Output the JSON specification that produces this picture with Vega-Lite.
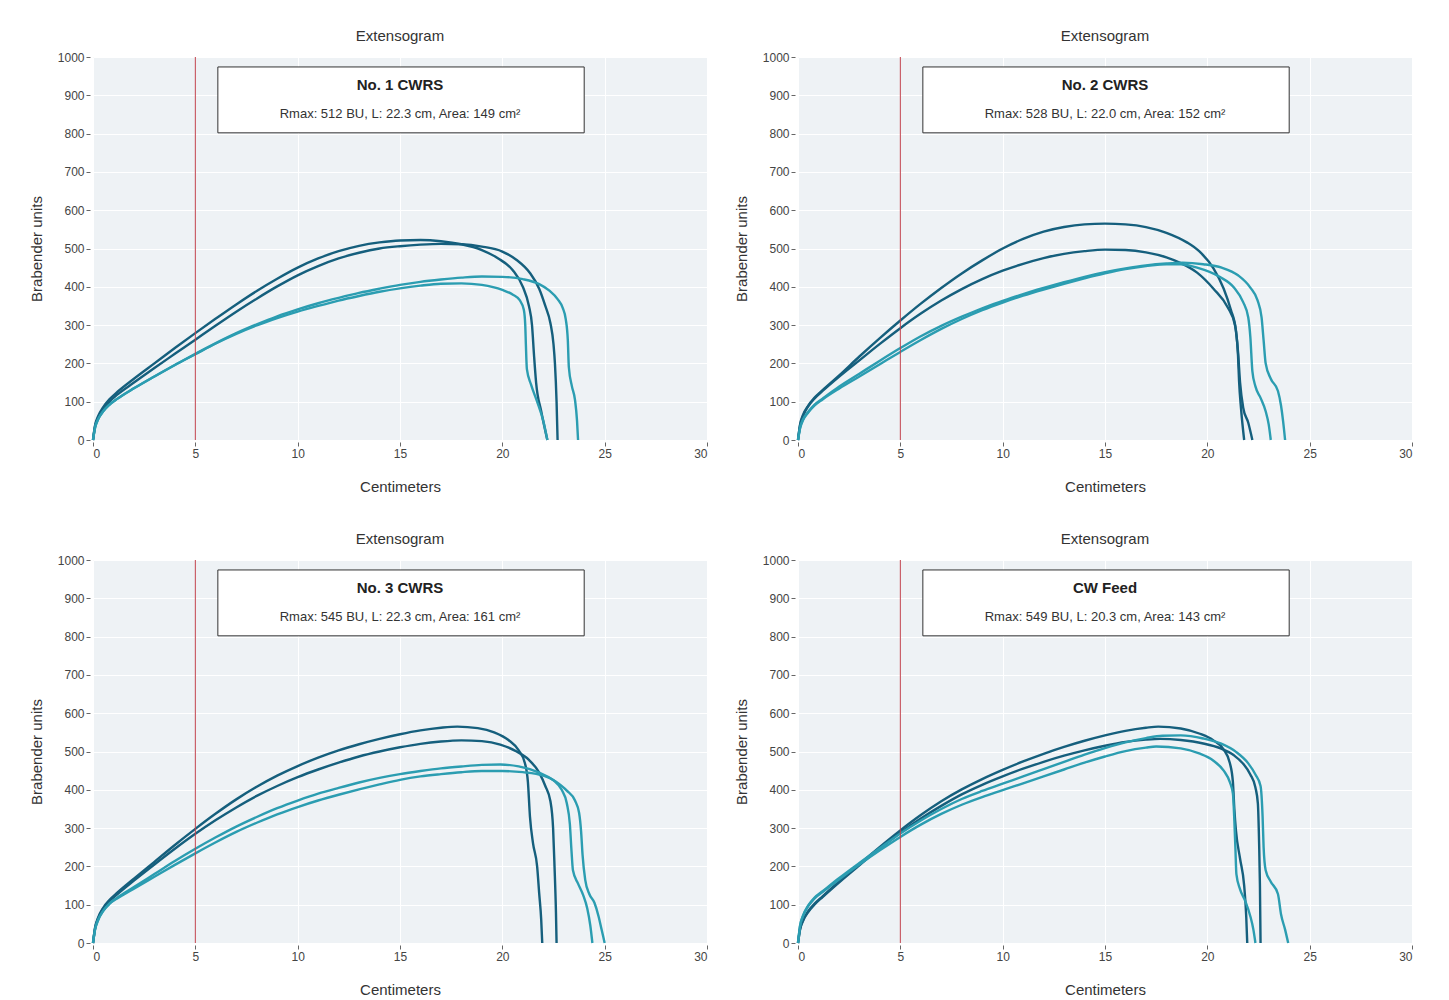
{
  "$schema": "https://vega.github.io/schema/vega-lite/v6.json",
  "padding": {"left": 29, "top": 29, "right": 5, "bottom": 5},
  "background": "white",
  "config": {
    "font": "Liberation Sans",
    "view": {"fill": "#eef2f5", "stroke": null},
    "axis": {
      "domain": false, "gridColor": "#ffffff", "gridWidth": 1, "tickColor": "#666666", "tickSize": 4,
      "labelColor": "#444444", "labelFontSize": 12, "titleFontSize": 15, "titleFontWeight": "normal",
      "titleColor": "#333333", "labelPadding": 2, "labelOverlap": false
    }
  },
  "datasets": {
    "rows": [
      {"p":1,"t":"No. 1 CWRS","st":"Rmax: 512 BU, L: 22.3 cm, Area: 149 cm²"},
      {"p":2,"t":"No. 2 CWRS","st":"Rmax: 528 BU, L: 22.0 cm, Area: 152 cm²"},
      {"p":3,"t":"No. 3 CWRS","st":"Rmax: 545 BU, L: 22.3 cm, Area: 161 cm²"},
      {"p":4,"t":"CW Feed","st":"Rmax: 549 BU, L: 20.3 cm, Area: 143 cm²"},

      {"p":1,"s":"1a","c":"d","x":0,"y":0},{"p":1,"s":"1a","c":"d","x":0.1,"y":38},{"p":1,"s":"1a","c":"d","x":0.25,"y":62},{"p":1,"s":"1a","c":"d","x":0.5,"y":86},{"p":1,"s":"1a","c":"d","x":0.8,"y":106},{"p":1,"s":"1a","c":"d","x":1.2,"y":126},{"p":1,"s":"1a","c":"d","x":2,"y":160},{"p":1,"s":"1a","c":"d","x":3,"y":200},{"p":1,"s":"1a","c":"d","x":4,"y":240},{"p":1,"s":"1a","c":"d","x":5,"y":279},{"p":1,"s":"1a","c":"d","x":6,"y":317},{"p":1,"s":"1a","c":"d","x":7,"y":354},{"p":1,"s":"1a","c":"d","x":8,"y":389},{"p":1,"s":"1a","c":"d","x":9,"y":421},{"p":1,"s":"1a","c":"d","x":10,"y":450},{"p":1,"s":"1a","c":"d","x":11,"y":474},{"p":1,"s":"1a","c":"d","x":12,"y":493},{"p":1,"s":"1a","c":"d","x":13,"y":507},{"p":1,"s":"1a","c":"d","x":14,"y":516},{"p":1,"s":"1a","c":"d","x":15,"y":521},{"p":1,"s":"1a","c":"d","x":16,"y":522},{"p":1,"s":"1a","c":"d","x":17,"y":519},{"p":1,"s":"1a","c":"d","x":18,"y":511},{"p":1,"s":"1a","c":"d","x":19,"y":496},{"p":1,"s":"1a","c":"d","x":19.8,"y":474},{"p":1,"s":"1a","c":"d","x":20.5,"y":444},{"p":1,"s":"1a","c":"d","x":21.0,"y":400},{"p":1,"s":"1a","c":"d","x":21.3,"y":350},{"p":1,"s":"1a","c":"d","x":21.45,"y":300},{"p":1,"s":"1a","c":"d","x":21.55,"y":220},{"p":1,"s":"1a","c":"d","x":21.65,"y":150},{"p":1,"s":"1a","c":"d","x":21.9,"y":75},{"p":1,"s":"1a","c":"d","x":22.2,"y":0},

      {"p":1,"s":"1b","c":"d","x":0,"y":0},{"p":1,"s":"1b","c":"d","x":0.1,"y":36},{"p":1,"s":"1b","c":"d","x":0.25,"y":58},{"p":1,"s":"1b","c":"d","x":0.5,"y":81},{"p":1,"s":"1b","c":"d","x":0.8,"y":100},{"p":1,"s":"1b","c":"d","x":1.2,"y":119},{"p":1,"s":"1b","c":"d","x":2,"y":150},{"p":1,"s":"1b","c":"d","x":3,"y":188},{"p":1,"s":"1b","c":"d","x":4,"y":225},{"p":1,"s":"1b","c":"d","x":5,"y":262},{"p":1,"s":"1b","c":"d","x":6,"y":299},{"p":1,"s":"1b","c":"d","x":7,"y":335},{"p":1,"s":"1b","c":"d","x":8,"y":369},{"p":1,"s":"1b","c":"d","x":9,"y":401},{"p":1,"s":"1b","c":"d","x":10,"y":430},{"p":1,"s":"1b","c":"d","x":11,"y":454},{"p":1,"s":"1b","c":"d","x":12,"y":474},{"p":1,"s":"1b","c":"d","x":13,"y":489},{"p":1,"s":"1b","c":"d","x":14,"y":500},{"p":1,"s":"1b","c":"d","x":15,"y":506},{"p":1,"s":"1b","c":"d","x":16,"y":510},{"p":1,"s":"1b","c":"d","x":17,"y":512},{"p":1,"s":"1b","c":"d","x":18,"y":511},{"p":1,"s":"1b","c":"d","x":19,"y":505},{"p":1,"s":"1b","c":"d","x":20,"y":492},{"p":1,"s":"1b","c":"d","x":20.7,"y":470},{"p":1,"s":"1b","c":"d","x":21.35,"y":436},{"p":1,"s":"1b","c":"d","x":21.8,"y":395},{"p":1,"s":"1b","c":"d","x":22.1,"y":350},{"p":1,"s":"1b","c":"d","x":22.35,"y":305},{"p":1,"s":"1b","c":"d","x":22.5,"y":250},{"p":1,"s":"1b","c":"d","x":22.57,"y":200},{"p":1,"s":"1b","c":"d","x":22.65,"y":100},{"p":1,"s":"1b","c":"d","x":22.7,"y":0},

      {"p":1,"s":"1c","c":"t","x":0,"y":0},{"p":1,"s":"1c","c":"t","x":0.1,"y":32},{"p":1,"s":"1c","c":"t","x":0.25,"y":54},{"p":1,"s":"1c","c":"t","x":0.5,"y":75},{"p":1,"s":"1c","c":"t","x":0.8,"y":92},{"p":1,"s":"1c","c":"t","x":1.2,"y":108},{"p":1,"s":"1c","c":"t","x":2,"y":135},{"p":1,"s":"1c","c":"t","x":3,"y":166},{"p":1,"s":"1c","c":"t","x":4,"y":196},{"p":1,"s":"1c","c":"t","x":5,"y":225},{"p":1,"s":"1c","c":"t","x":6,"y":253},{"p":1,"s":"1c","c":"t","x":7,"y":279},{"p":1,"s":"1c","c":"t","x":8,"y":302},{"p":1,"s":"1c","c":"t","x":9,"y":323},{"p":1,"s":"1c","c":"t","x":10,"y":341},{"p":1,"s":"1c","c":"t","x":11,"y":357},{"p":1,"s":"1c","c":"t","x":12,"y":371},{"p":1,"s":"1c","c":"t","x":13,"y":384},{"p":1,"s":"1c","c":"t","x":14,"y":395},{"p":1,"s":"1c","c":"t","x":15,"y":405},{"p":1,"s":"1c","c":"t","x":16,"y":413},{"p":1,"s":"1c","c":"t","x":17,"y":419},{"p":1,"s":"1c","c":"t","x":18,"y":424},{"p":1,"s":"1c","c":"t","x":19,"y":427},{"p":1,"s":"1c","c":"t","x":20,"y":426},{"p":1,"s":"1c","c":"t","x":21,"y":420},{"p":1,"s":"1c","c":"t","x":21.8,"y":407},{"p":1,"s":"1c","c":"t","x":22.3,"y":390},{"p":1,"s":"1c","c":"t","x":22.7,"y":368},{"p":1,"s":"1c","c":"t","x":22.95,"y":345},{"p":1,"s":"1c","c":"t","x":23.1,"y":315},{"p":1,"s":"1c","c":"t","x":23.2,"y":260},{"p":1,"s":"1c","c":"t","x":23.25,"y":190},{"p":1,"s":"1c","c":"t","x":23.4,"y":140},{"p":1,"s":"1c","c":"t","x":23.55,"y":105},{"p":1,"s":"1c","c":"t","x":23.65,"y":50},{"p":1,"s":"1c","c":"t","x":23.7,"y":0},

      {"p":1,"s":"1d","c":"t","x":0,"y":0},{"p":1,"s":"1d","c":"t","x":0.1,"y":32},{"p":1,"s":"1d","c":"t","x":0.25,"y":54},{"p":1,"s":"1d","c":"t","x":0.5,"y":75},{"p":1,"s":"1d","c":"t","x":0.8,"y":92},{"p":1,"s":"1d","c":"t","x":1.2,"y":108},{"p":1,"s":"1d","c":"t","x":2,"y":135},{"p":1,"s":"1d","c":"t","x":3,"y":166},{"p":1,"s":"1d","c":"t","x":4,"y":196},{"p":1,"s":"1d","c":"t","x":5,"y":224},{"p":1,"s":"1d","c":"t","x":6,"y":252},{"p":1,"s":"1d","c":"t","x":7,"y":277},{"p":1,"s":"1d","c":"t","x":8,"y":299},{"p":1,"s":"1d","c":"t","x":9,"y":318},{"p":1,"s":"1d","c":"t","x":10,"y":335},{"p":1,"s":"1d","c":"t","x":11,"y":350},{"p":1,"s":"1d","c":"t","x":12,"y":364},{"p":1,"s":"1d","c":"t","x":13,"y":376},{"p":1,"s":"1d","c":"t","x":14,"y":387},{"p":1,"s":"1d","c":"t","x":15,"y":396},{"p":1,"s":"1d","c":"t","x":16,"y":403},{"p":1,"s":"1d","c":"t","x":17,"y":408},{"p":1,"s":"1d","c":"t","x":18,"y":409},{"p":1,"s":"1d","c":"t","x":19,"y":405},{"p":1,"s":"1d","c":"t","x":20,"y":392},{"p":1,"s":"1d","c":"t","x":20.5,"y":380},{"p":1,"s":"1d","c":"t","x":20.85,"y":365},{"p":1,"s":"1d","c":"t","x":21.05,"y":340},{"p":1,"s":"1d","c":"t","x":21.12,"y":300},{"p":1,"s":"1d","c":"t","x":21.15,"y":250},{"p":1,"s":"1d","c":"t","x":21.2,"y":185},{"p":1,"s":"1d","c":"t","x":21.4,"y":145},{"p":1,"s":"1d","c":"t","x":21.7,"y":100},{"p":1,"s":"1d","c":"t","x":22.0,"y":50},{"p":1,"s":"1d","c":"t","x":22.2,"y":0},

      {"p":2,"s":"2a","c":"d","x":0,"y":0},{"p":2,"s":"2a","c":"d","x":0.1,"y":40},{"p":2,"s":"2a","c":"d","x":0.25,"y":66},{"p":2,"s":"2a","c":"d","x":0.5,"y":90},{"p":2,"s":"2a","c":"d","x":0.8,"y":110},{"p":2,"s":"2a","c":"d","x":1.2,"y":130},{"p":2,"s":"2a","c":"d","x":2,"y":168},{"p":2,"s":"2a","c":"d","x":3,"y":218},{"p":2,"s":"2a","c":"d","x":4,"y":266},{"p":2,"s":"2a","c":"d","x":5,"y":312},{"p":2,"s":"2a","c":"d","x":6,"y":356},{"p":2,"s":"2a","c":"d","x":7,"y":397},{"p":2,"s":"2a","c":"d","x":8,"y":435},{"p":2,"s":"2a","c":"d","x":9,"y":469},{"p":2,"s":"2a","c":"d","x":10,"y":500},{"p":2,"s":"2a","c":"d","x":11,"y":525},{"p":2,"s":"2a","c":"d","x":12,"y":544},{"p":2,"s":"2a","c":"d","x":13,"y":556},{"p":2,"s":"2a","c":"d","x":14,"y":563},{"p":2,"s":"2a","c":"d","x":15,"y":565},{"p":2,"s":"2a","c":"d","x":16,"y":563},{"p":2,"s":"2a","c":"d","x":17,"y":556},{"p":2,"s":"2a","c":"d","x":18,"y":541},{"p":2,"s":"2a","c":"d","x":19,"y":516},{"p":2,"s":"2a","c":"d","x":19.6,"y":493},{"p":2,"s":"2a","c":"d","x":20.3,"y":448},{"p":2,"s":"2a","c":"d","x":20.8,"y":395},{"p":2,"s":"2a","c":"d","x":21.15,"y":340},{"p":2,"s":"2a","c":"d","x":21.4,"y":285},{"p":2,"s":"2a","c":"d","x":21.5,"y":220},{"p":2,"s":"2a","c":"d","x":21.55,"y":154},{"p":2,"s":"2a","c":"d","x":21.65,"y":80},{"p":2,"s":"2a","c":"d","x":21.8,"y":0},

      {"p":2,"s":"2b","c":"d","x":0,"y":0},{"p":2,"s":"2b","c":"d","x":0.1,"y":38},{"p":2,"s":"2b","c":"d","x":0.25,"y":63},{"p":2,"s":"2b","c":"d","x":0.5,"y":88},{"p":2,"s":"2b","c":"d","x":0.8,"y":108},{"p":2,"s":"2b","c":"d","x":1.2,"y":128},{"p":2,"s":"2b","c":"d","x":2,"y":165},{"p":2,"s":"2b","c":"d","x":3,"y":208},{"p":2,"s":"2b","c":"d","x":4,"y":251},{"p":2,"s":"2b","c":"d","x":5,"y":292},{"p":2,"s":"2b","c":"d","x":6,"y":330},{"p":2,"s":"2b","c":"d","x":7,"y":364},{"p":2,"s":"2b","c":"d","x":8,"y":394},{"p":2,"s":"2b","c":"d","x":9,"y":420},{"p":2,"s":"2b","c":"d","x":10,"y":442},{"p":2,"s":"2b","c":"d","x":11,"y":460},{"p":2,"s":"2b","c":"d","x":12,"y":475},{"p":2,"s":"2b","c":"d","x":13,"y":486},{"p":2,"s":"2b","c":"d","x":14,"y":493},{"p":2,"s":"2b","c":"d","x":15,"y":497},{"p":2,"s":"2b","c":"d","x":16,"y":496},{"p":2,"s":"2b","c":"d","x":17,"y":490},{"p":2,"s":"2b","c":"d","x":18,"y":477},{"p":2,"s":"2b","c":"d","x":18.7,"y":462},{"p":2,"s":"2b","c":"d","x":19.5,"y":437},{"p":2,"s":"2b","c":"d","x":20.3,"y":395},{"p":2,"s":"2b","c":"d","x":21.0,"y":346},{"p":2,"s":"2b","c":"d","x":21.35,"y":300},{"p":2,"s":"2b","c":"d","x":21.5,"y":230},{"p":2,"s":"2b","c":"d","x":21.6,"y":150},{"p":2,"s":"2b","c":"d","x":21.75,"y":85},{"p":2,"s":"2b","c":"d","x":22.0,"y":45},{"p":2,"s":"2b","c":"d","x":22.2,"y":0},

      {"p":2,"s":"2c","c":"t","x":0,"y":0},{"p":2,"s":"2c","c":"t","x":0.1,"y":32},{"p":2,"s":"2c","c":"t","x":0.25,"y":54},{"p":2,"s":"2c","c":"t","x":0.5,"y":74},{"p":2,"s":"2c","c":"t","x":0.8,"y":92},{"p":2,"s":"2c","c":"t","x":1.2,"y":108},{"p":2,"s":"2c","c":"t","x":2,"y":139},{"p":2,"s":"2c","c":"t","x":3,"y":173},{"p":2,"s":"2c","c":"t","x":4,"y":207},{"p":2,"s":"2c","c":"t","x":5,"y":240},{"p":2,"s":"2c","c":"t","x":6,"y":271},{"p":2,"s":"2c","c":"t","x":7,"y":298},{"p":2,"s":"2c","c":"t","x":8,"y":322},{"p":2,"s":"2c","c":"t","x":9,"y":344},{"p":2,"s":"2c","c":"t","x":10,"y":363},{"p":2,"s":"2c","c":"t","x":11,"y":381},{"p":2,"s":"2c","c":"t","x":12,"y":397},{"p":2,"s":"2c","c":"t","x":13,"y":412},{"p":2,"s":"2c","c":"t","x":14,"y":426},{"p":2,"s":"2c","c":"t","x":15,"y":438},{"p":2,"s":"2c","c":"t","x":16,"y":448},{"p":2,"s":"2c","c":"t","x":17,"y":456},{"p":2,"s":"2c","c":"t","x":18,"y":461},{"p":2,"s":"2c","c":"t","x":18.8,"y":463},{"p":2,"s":"2c","c":"t","x":19.8,"y":459},{"p":2,"s":"2c","c":"t","x":20.7,"y":450},{"p":2,"s":"2c","c":"t","x":21.5,"y":430},{"p":2,"s":"2c","c":"t","x":22.1,"y":398},{"p":2,"s":"2c","c":"t","x":22.45,"y":365},{"p":2,"s":"2c","c":"t","x":22.65,"y":320},{"p":2,"s":"2c","c":"t","x":22.75,"y":260},{"p":2,"s":"2c","c":"t","x":22.85,"y":200},{"p":2,"s":"2c","c":"t","x":23.1,"y":160},{"p":2,"s":"2c","c":"t","x":23.45,"y":128},{"p":2,"s":"2c","c":"t","x":23.6,"y":90},{"p":2,"s":"2c","c":"t","x":23.7,"y":50},{"p":2,"s":"2c","c":"t","x":23.8,"y":0},

      {"p":2,"s":"2d","c":"t","x":0,"y":0},{"p":2,"s":"2d","c":"t","x":0.1,"y":30},{"p":2,"s":"2d","c":"t","x":0.25,"y":52},{"p":2,"s":"2d","c":"t","x":0.5,"y":72},{"p":2,"s":"2d","c":"t","x":0.8,"y":90},{"p":2,"s":"2d","c":"t","x":1.2,"y":106},{"p":2,"s":"2d","c":"t","x":2,"y":134},{"p":2,"s":"2d","c":"t","x":3,"y":166},{"p":2,"s":"2d","c":"t","x":4,"y":198},{"p":2,"s":"2d","c":"t","x":5,"y":230},{"p":2,"s":"2d","c":"t","x":6,"y":261},{"p":2,"s":"2d","c":"t","x":7,"y":290},{"p":2,"s":"2d","c":"t","x":8,"y":316},{"p":2,"s":"2d","c":"t","x":9,"y":339},{"p":2,"s":"2d","c":"t","x":10,"y":359},{"p":2,"s":"2d","c":"t","x":11,"y":377},{"p":2,"s":"2d","c":"t","x":12,"y":393},{"p":2,"s":"2d","c":"t","x":13,"y":408},{"p":2,"s":"2d","c":"t","x":14,"y":422},{"p":2,"s":"2d","c":"t","x":15,"y":435},{"p":2,"s":"2d","c":"t","x":16,"y":446},{"p":2,"s":"2d","c":"t","x":17,"y":454},{"p":2,"s":"2d","c":"t","x":18,"y":459},{"p":2,"s":"2d","c":"t","x":18.7,"y":459},{"p":2,"s":"2d","c":"t","x":19.5,"y":450},{"p":2,"s":"2d","c":"t","x":20.6,"y":426},{"p":2,"s":"2d","c":"t","x":21.3,"y":398},{"p":2,"s":"2d","c":"t","x":21.75,"y":360},{"p":2,"s":"2d","c":"t","x":22.0,"y":320},{"p":2,"s":"2d","c":"t","x":22.1,"y":270},{"p":2,"s":"2d","c":"t","x":22.2,"y":180},{"p":2,"s":"2d","c":"t","x":22.35,"y":140},{"p":2,"s":"2d","c":"t","x":22.6,"y":110},{"p":2,"s":"2d","c":"t","x":22.85,"y":75},{"p":2,"s":"2d","c":"t","x":23.0,"y":40},{"p":2,"s":"2d","c":"t","x":23.1,"y":0},

      {"p":3,"s":"3a","c":"d","x":0,"y":0},{"p":3,"s":"3a","c":"d","x":0.1,"y":40},{"p":3,"s":"3a","c":"d","x":0.25,"y":66},{"p":3,"s":"3a","c":"d","x":0.5,"y":92},{"p":3,"s":"3a","c":"d","x":0.8,"y":112},{"p":3,"s":"3a","c":"d","x":1.2,"y":132},{"p":3,"s":"3a","c":"d","x":2,"y":168},{"p":3,"s":"3a","c":"d","x":3,"y":212},{"p":3,"s":"3a","c":"d","x":4,"y":256},{"p":3,"s":"3a","c":"d","x":5,"y":298},{"p":3,"s":"3a","c":"d","x":6,"y":338},{"p":3,"s":"3a","c":"d","x":7,"y":375},{"p":3,"s":"3a","c":"d","x":8,"y":408},{"p":3,"s":"3a","c":"d","x":9,"y":437},{"p":3,"s":"3a","c":"d","x":10,"y":462},{"p":3,"s":"3a","c":"d","x":11,"y":484},{"p":3,"s":"3a","c":"d","x":12,"y":503},{"p":3,"s":"3a","c":"d","x":13,"y":519},{"p":3,"s":"3a","c":"d","x":14,"y":533},{"p":3,"s":"3a","c":"d","x":15,"y":545},{"p":3,"s":"3a","c":"d","x":16,"y":555},{"p":3,"s":"3a","c":"d","x":17,"y":562},{"p":3,"s":"3a","c":"d","x":17.8,"y":565},{"p":3,"s":"3a","c":"d","x":18.8,"y":561},{"p":3,"s":"3a","c":"d","x":19.6,"y":550},{"p":3,"s":"3a","c":"d","x":20.3,"y":530},{"p":3,"s":"3a","c":"d","x":20.8,"y":503},{"p":3,"s":"3a","c":"d","x":21.1,"y":470},{"p":3,"s":"3a","c":"d","x":21.25,"y":420},{"p":3,"s":"3a","c":"d","x":21.35,"y":330},{"p":3,"s":"3a","c":"d","x":21.5,"y":260},{"p":3,"s":"3a","c":"d","x":21.7,"y":200},{"p":3,"s":"3a","c":"d","x":21.8,"y":130},{"p":3,"s":"3a","c":"d","x":21.9,"y":60},{"p":3,"s":"3a","c":"d","x":21.95,"y":0},

      {"p":3,"s":"3b","c":"d","x":0,"y":0},{"p":3,"s":"3b","c":"d","x":0.1,"y":38},{"p":3,"s":"3b","c":"d","x":0.25,"y":64},{"p":3,"s":"3b","c":"d","x":0.5,"y":89},{"p":3,"s":"3b","c":"d","x":0.8,"y":109},{"p":3,"s":"3b","c":"d","x":1.2,"y":128},{"p":3,"s":"3b","c":"d","x":2,"y":163},{"p":3,"s":"3b","c":"d","x":3,"y":205},{"p":3,"s":"3b","c":"d","x":4,"y":246},{"p":3,"s":"3b","c":"d","x":5,"y":285},{"p":3,"s":"3b","c":"d","x":6,"y":321},{"p":3,"s":"3b","c":"d","x":7,"y":354},{"p":3,"s":"3b","c":"d","x":8,"y":384},{"p":3,"s":"3b","c":"d","x":9,"y":410},{"p":3,"s":"3b","c":"d","x":10,"y":433},{"p":3,"s":"3b","c":"d","x":11,"y":453},{"p":3,"s":"3b","c":"d","x":12,"y":471},{"p":3,"s":"3b","c":"d","x":13,"y":487},{"p":3,"s":"3b","c":"d","x":14,"y":500},{"p":3,"s":"3b","c":"d","x":15,"y":511},{"p":3,"s":"3b","c":"d","x":16,"y":520},{"p":3,"s":"3b","c":"d","x":17,"y":526},{"p":3,"s":"3b","c":"d","x":18,"y":529},{"p":3,"s":"3b","c":"d","x":19,"y":527},{"p":3,"s":"3b","c":"d","x":19.9,"y":518},{"p":3,"s":"3b","c":"d","x":20.7,"y":500},{"p":3,"s":"3b","c":"d","x":21.3,"y":478},{"p":3,"s":"3b","c":"d","x":21.8,"y":445},{"p":3,"s":"3b","c":"d","x":22.1,"y":410},{"p":3,"s":"3b","c":"d","x":22.35,"y":370},{"p":3,"s":"3b","c":"d","x":22.48,"y":300},{"p":3,"s":"3b","c":"d","x":22.55,"y":200},{"p":3,"s":"3b","c":"d","x":22.62,"y":80},{"p":3,"s":"3b","c":"d","x":22.65,"y":0},

      {"p":3,"s":"3c","c":"t","x":0,"y":0},{"p":3,"s":"3c","c":"t","x":0.1,"y":35},{"p":3,"s":"3c","c":"t","x":0.25,"y":60},{"p":3,"s":"3c","c":"t","x":0.5,"y":84},{"p":3,"s":"3c","c":"t","x":0.8,"y":103},{"p":3,"s":"3c","c":"t","x":1.2,"y":119},{"p":3,"s":"3c","c":"t","x":2,"y":146},{"p":3,"s":"3c","c":"t","x":3,"y":180},{"p":3,"s":"3c","c":"t","x":4,"y":214},{"p":3,"s":"3c","c":"t","x":5,"y":246},{"p":3,"s":"3c","c":"t","x":6,"y":276},{"p":3,"s":"3c","c":"t","x":7,"y":304},{"p":3,"s":"3c","c":"t","x":8,"y":329},{"p":3,"s":"3c","c":"t","x":9,"y":352},{"p":3,"s":"3c","c":"t","x":10,"y":372},{"p":3,"s":"3c","c":"t","x":11,"y":390},{"p":3,"s":"3c","c":"t","x":12,"y":405},{"p":3,"s":"3c","c":"t","x":13,"y":419},{"p":3,"s":"3c","c":"t","x":14,"y":431},{"p":3,"s":"3c","c":"t","x":15,"y":441},{"p":3,"s":"3c","c":"t","x":16,"y":449},{"p":3,"s":"3c","c":"t","x":17,"y":456},{"p":3,"s":"3c","c":"t","x":18,"y":461},{"p":3,"s":"3c","c":"t","x":19,"y":465},{"p":3,"s":"3c","c":"t","x":19.9,"y":466},{"p":3,"s":"3c","c":"t","x":20.8,"y":461},{"p":3,"s":"3c","c":"t","x":21.8,"y":445},{"p":3,"s":"3c","c":"t","x":22.6,"y":422},{"p":3,"s":"3c","c":"t","x":23.15,"y":398},{"p":3,"s":"3c","c":"t","x":23.55,"y":372},{"p":3,"s":"3c","c":"t","x":23.75,"y":340},{"p":3,"s":"3c","c":"t","x":23.85,"y":290},{"p":3,"s":"3c","c":"t","x":23.92,"y":230},{"p":3,"s":"3c","c":"t","x":24.05,"y":165},{"p":3,"s":"3c","c":"t","x":24.25,"y":128},{"p":3,"s":"3c","c":"t","x":24.5,"y":105},{"p":3,"s":"3c","c":"t","x":24.7,"y":70},{"p":3,"s":"3c","c":"t","x":24.85,"y":35},{"p":3,"s":"3c","c":"t","x":25.0,"y":0},

      {"p":3,"s":"3d","c":"t","x":0,"y":0},{"p":3,"s":"3d","c":"t","x":0.1,"y":35},{"p":3,"s":"3d","c":"t","x":0.25,"y":60},{"p":3,"s":"3d","c":"t","x":0.5,"y":84},{"p":3,"s":"3d","c":"t","x":0.8,"y":102},{"p":3,"s":"3d","c":"t","x":1.2,"y":117},{"p":3,"s":"3d","c":"t","x":2,"y":142},{"p":3,"s":"3d","c":"t","x":3,"y":173},{"p":3,"s":"3d","c":"t","x":4,"y":204},{"p":3,"s":"3d","c":"t","x":5,"y":234},{"p":3,"s":"3d","c":"t","x":6,"y":263},{"p":3,"s":"3d","c":"t","x":7,"y":290},{"p":3,"s":"3d","c":"t","x":8,"y":314},{"p":3,"s":"3d","c":"t","x":9,"y":336},{"p":3,"s":"3d","c":"t","x":10,"y":355},{"p":3,"s":"3d","c":"t","x":11,"y":372},{"p":3,"s":"3d","c":"t","x":12,"y":387},{"p":3,"s":"3d","c":"t","x":13,"y":401},{"p":3,"s":"3d","c":"t","x":14,"y":414},{"p":3,"s":"3d","c":"t","x":15,"y":426},{"p":3,"s":"3d","c":"t","x":16,"y":435},{"p":3,"s":"3d","c":"t","x":17,"y":441},{"p":3,"s":"3d","c":"t","x":18,"y":446},{"p":3,"s":"3d","c":"t","x":19,"y":449},{"p":3,"s":"3d","c":"t","x":20,"y":449},{"p":3,"s":"3d","c":"t","x":21,"y":446},{"p":3,"s":"3d","c":"t","x":22.0,"y":437},{"p":3,"s":"3d","c":"t","x":22.5,"y":425},{"p":3,"s":"3d","c":"t","x":22.9,"y":400},{"p":3,"s":"3d","c":"t","x":23.15,"y":365},{"p":3,"s":"3d","c":"t","x":23.3,"y":310},{"p":3,"s":"3d","c":"t","x":23.38,"y":240},{"p":3,"s":"3d","c":"t","x":23.45,"y":190},{"p":3,"s":"3d","c":"t","x":23.7,"y":155},{"p":3,"s":"3d","c":"t","x":23.95,"y":125},{"p":3,"s":"3d","c":"t","x":24.15,"y":90},{"p":3,"s":"3d","c":"t","x":24.3,"y":45},{"p":3,"s":"3d","c":"t","x":24.4,"y":0},

      {"p":4,"s":"4a","c":"d","x":0,"y":0},{"p":4,"s":"4a","c":"d","x":0.1,"y":36},{"p":4,"s":"4a","c":"d","x":0.25,"y":60},{"p":4,"s":"4a","c":"d","x":0.5,"y":83},{"p":4,"s":"4a","c":"d","x":0.8,"y":102},{"p":4,"s":"4a","c":"d","x":1.2,"y":122},{"p":4,"s":"4a","c":"d","x":2,"y":160},{"p":4,"s":"4a","c":"d","x":3,"y":206},{"p":4,"s":"4a","c":"d","x":4,"y":251},{"p":4,"s":"4a","c":"d","x":5,"y":294},{"p":4,"s":"4a","c":"d","x":6,"y":334},{"p":4,"s":"4a","c":"d","x":7,"y":370},{"p":4,"s":"4a","c":"d","x":8,"y":401},{"p":4,"s":"4a","c":"d","x":9,"y":428},{"p":4,"s":"4a","c":"d","x":10,"y":452},{"p":4,"s":"4a","c":"d","x":11,"y":474},{"p":4,"s":"4a","c":"d","x":12,"y":494},{"p":4,"s":"4a","c":"d","x":13,"y":512},{"p":4,"s":"4a","c":"d","x":14,"y":528},{"p":4,"s":"4a","c":"d","x":15,"y":542},{"p":4,"s":"4a","c":"d","x":16,"y":554},{"p":4,"s":"4a","c":"d","x":17,"y":562},{"p":4,"s":"4a","c":"d","x":17.6,"y":565},{"p":4,"s":"4a","c":"d","x":18.7,"y":560},{"p":4,"s":"4a","c":"d","x":19.6,"y":547},{"p":4,"s":"4a","c":"d","x":20.3,"y":529},{"p":4,"s":"4a","c":"d","x":20.8,"y":505},{"p":4,"s":"4a","c":"d","x":21.1,"y":470},{"p":4,"s":"4a","c":"d","x":21.25,"y":420},{"p":4,"s":"4a","c":"d","x":21.32,"y":350},{"p":4,"s":"4a","c":"d","x":21.4,"y":293},{"p":4,"s":"4a","c":"d","x":21.6,"y":220},{"p":4,"s":"4a","c":"d","x":21.8,"y":150},{"p":4,"s":"4a","c":"d","x":21.9,"y":70},{"p":4,"s":"4a","c":"d","x":21.95,"y":0},

      {"p":4,"s":"4b","c":"d","x":0,"y":0},{"p":4,"s":"4b","c":"d","x":0.1,"y":35},{"p":4,"s":"4b","c":"d","x":0.25,"y":58},{"p":4,"s":"4b","c":"d","x":0.5,"y":81},{"p":4,"s":"4b","c":"d","x":0.8,"y":100},{"p":4,"s":"4b","c":"d","x":1.2,"y":120},{"p":4,"s":"4b","c":"d","x":2,"y":158},{"p":4,"s":"4b","c":"d","x":3,"y":203},{"p":4,"s":"4b","c":"d","x":4,"y":247},{"p":4,"s":"4b","c":"d","x":5,"y":288},{"p":4,"s":"4b","c":"d","x":6,"y":325},{"p":4,"s":"4b","c":"d","x":7,"y":358},{"p":4,"s":"4b","c":"d","x":8,"y":388},{"p":4,"s":"4b","c":"d","x":9,"y":413},{"p":4,"s":"4b","c":"d","x":10,"y":435},{"p":4,"s":"4b","c":"d","x":11,"y":455},{"p":4,"s":"4b","c":"d","x":12,"y":473},{"p":4,"s":"4b","c":"d","x":13,"y":489},{"p":4,"s":"4b","c":"d","x":14,"y":503},{"p":4,"s":"4b","c":"d","x":15,"y":515},{"p":4,"s":"4b","c":"d","x":16,"y":525},{"p":4,"s":"4b","c":"d","x":17,"y":531},{"p":4,"s":"4b","c":"d","x":17.7,"y":533},{"p":4,"s":"4b","c":"d","x":18.7,"y":530},{"p":4,"s":"4b","c":"d","x":19.8,"y":521},{"p":4,"s":"4b","c":"d","x":20.65,"y":508},{"p":4,"s":"4b","c":"d","x":21.3,"y":490},{"p":4,"s":"4b","c":"d","x":21.75,"y":468},{"p":4,"s":"4b","c":"d","x":22.1,"y":440},{"p":4,"s":"4b","c":"d","x":22.35,"y":406},{"p":4,"s":"4b","c":"d","x":22.47,"y":364},{"p":4,"s":"4b","c":"d","x":22.53,"y":260},{"p":4,"s":"4b","c":"d","x":22.57,"y":150},{"p":4,"s":"4b","c":"d","x":22.6,"y":0},

      {"p":4,"s":"4c","c":"t","x":0,"y":0},{"p":4,"s":"4c","c":"t","x":0.1,"y":45},{"p":4,"s":"4c","c":"t","x":0.25,"y":72},{"p":4,"s":"4c","c":"t","x":0.5,"y":98},{"p":4,"s":"4c","c":"t","x":0.8,"y":118},{"p":4,"s":"4c","c":"t","x":1.2,"y":135},{"p":4,"s":"4c","c":"t","x":2,"y":169},{"p":4,"s":"4c","c":"t","x":3,"y":209},{"p":4,"s":"4c","c":"t","x":4,"y":248},{"p":4,"s":"4c","c":"t","x":5,"y":286},{"p":4,"s":"4c","c":"t","x":6,"y":320},{"p":4,"s":"4c","c":"t","x":7,"y":350},{"p":4,"s":"4c","c":"t","x":8,"y":376},{"p":4,"s":"4c","c":"t","x":9,"y":397},{"p":4,"s":"4c","c":"t","x":10,"y":416},{"p":4,"s":"4c","c":"t","x":11,"y":435},{"p":4,"s":"4c","c":"t","x":12,"y":454},{"p":4,"s":"4c","c":"t","x":13,"y":473},{"p":4,"s":"4c","c":"t","x":14,"y":492},{"p":4,"s":"4c","c":"t","x":15,"y":509},{"p":4,"s":"4c","c":"t","x":16,"y":524},{"p":4,"s":"4c","c":"t","x":17,"y":535},{"p":4,"s":"4c","c":"t","x":17.8,"y":541},{"p":4,"s":"4c","c":"t","x":18.7,"y":542},{"p":4,"s":"4c","c":"t","x":19.8,"y":534},{"p":4,"s":"4c","c":"t","x":20.65,"y":521},{"p":4,"s":"4c","c":"t","x":21.4,"y":499},{"p":4,"s":"4c","c":"t","x":22.0,"y":469},{"p":4,"s":"4c","c":"t","x":22.35,"y":440},{"p":4,"s":"4c","c":"t","x":22.6,"y":410},{"p":4,"s":"4c","c":"t","x":22.7,"y":330},{"p":4,"s":"4c","c":"t","x":22.75,"y":250},{"p":4,"s":"4c","c":"t","x":22.85,"y":190},{"p":4,"s":"4c","c":"t","x":23.1,"y":160},{"p":4,"s":"4c","c":"t","x":23.45,"y":128},{"p":4,"s":"4c","c":"t","x":23.6,"y":75},{"p":4,"s":"4c","c":"t","x":23.8,"y":35},{"p":4,"s":"4c","c":"t","x":23.95,"y":0},

      {"p":4,"s":"4d","c":"t","x":0,"y":0},{"p":4,"s":"4d","c":"t","x":0.1,"y":44},{"p":4,"s":"4d","c":"t","x":0.25,"y":71},{"p":4,"s":"4d","c":"t","x":0.5,"y":96},{"p":4,"s":"4d","c":"t","x":0.8,"y":116},{"p":4,"s":"4d","c":"t","x":1.2,"y":133},{"p":4,"s":"4d","c":"t","x":2,"y":166},{"p":4,"s":"4d","c":"t","x":3,"y":205},{"p":4,"s":"4d","c":"t","x":4,"y":242},{"p":4,"s":"4d","c":"t","x":5,"y":277},{"p":4,"s":"4d","c":"t","x":6,"y":309},{"p":4,"s":"4d","c":"t","x":7,"y":337},{"p":4,"s":"4d","c":"t","x":8,"y":361},{"p":4,"s":"4d","c":"t","x":9,"y":381},{"p":4,"s":"4d","c":"t","x":10,"y":399},{"p":4,"s":"4d","c":"t","x":11,"y":417},{"p":4,"s":"4d","c":"t","x":12,"y":435},{"p":4,"s":"4d","c":"t","x":13,"y":453},{"p":4,"s":"4d","c":"t","x":14,"y":471},{"p":4,"s":"4d","c":"t","x":15,"y":487},{"p":4,"s":"4d","c":"t","x":16,"y":501},{"p":4,"s":"4d","c":"t","x":17,"y":510},{"p":4,"s":"4d","c":"t","x":17.5,"y":513},{"p":4,"s":"4d","c":"t","x":18.7,"y":508},{"p":4,"s":"4d","c":"t","x":19.6,"y":495},{"p":4,"s":"4d","c":"t","x":20.3,"y":476},{"p":4,"s":"4d","c":"t","x":20.8,"y":450},{"p":4,"s":"4d","c":"t","x":21.1,"y":420},{"p":4,"s":"4d","c":"t","x":21.25,"y":390},{"p":4,"s":"4d","c":"t","x":21.32,"y":320},{"p":4,"s":"4d","c":"t","x":21.37,"y":250},{"p":4,"s":"4d","c":"t","x":21.42,"y":180},{"p":4,"s":"4d","c":"t","x":21.6,"y":140},{"p":4,"s":"4d","c":"t","x":21.85,"y":110},{"p":4,"s":"4d","c":"t","x":22.1,"y":70},{"p":4,"s":"4d","c":"t","x":22.25,"y":35},{"p":4,"s":"4d","c":"t","x":22.35,"y":0}
    ]
  },
  "data": {"name": "rows"},
  "facet": {
    "field": "p", "type": "ordinal",
    "header": {"title": null, "labelExpr": "'Extensogram'", "labelFontSize": 15, "labelColor": "#333333", "labelPadding": 7, "labelFont": "Liberation Sans"}
  },
  "columns": 2,
  "spacing": {"column": 26, "row": 38},
  "resolve": {"axis": {"x": "independent", "y": "independent"}},
  "spec": {
    "width": 614,
    "height": 383,
    "layer": [
      {
        "transform": [{"filter": "isValid(datum.s)"}],
        "mark": {"type": "line", "strokeWidth": 2.4, "interpolate": "monotone"},
        "encoding": {
          "x": {"field": "x", "type": "quantitative", "scale": {"domain": [0, 30], "nice": false},
                "axis": {"title": "Centimeters", "values": [0,5,10,15,20,25,30], "tickCount": 20, "format": "d", "offset": 2, "titlePadding": 20}},
          "y": {"field": "y", "type": "quantitative", "scale": {"domain": [0, 1000], "nice": false},
                "axis": {"title": "Brabender units", "values": [0,100,200,300,400,500,600,700,800,900,1000], "tickCount": 20, "format": "d", "offset": 3, "titlePadding": 13}},
          "color": {"field": "c", "type": "nominal", "scale": {"domain": ["d","t"], "range": ["#155f7d","#2b9db1"]}, "legend": null},
          "detail": {"field": "s"}
        }
      },
      {
        "transform": [{"filter": "isValid(datum.t)"}],
        "mark": {"type": "rule", "color": "#c0414c", "strokeWidth": 1},
        "encoding": {"x": {"datum": 5, "type": "quantitative"}}
      },
      {
        "transform": [{"filter": "isValid(datum.t)"}],
        "mark": {"type": "rect", "fill": "white", "stroke": "#333333", "strokeWidth": 1},
        "encoding": {
          "x": {"datum": 6.1, "type": "quantitative"}, "x2": {"datum": 24},
          "y": {"datum": 802, "type": "quantitative"}, "y2": {"datum": 974}
        }
      },
      {
        "transform": [{"filter": "isValid(datum.t)"}],
        "mark": {"type": "text", "fontSize": 15, "fontWeight": "bold", "color": "#222222", "baseline": "middle"},
        "encoding": {"x": {"datum": 15, "type": "quantitative"}, "y": {"datum": 927, "type": "quantitative"}, "text": {"field": "t"}}
      },
      {
        "transform": [{"filter": "isValid(datum.t)"}],
        "mark": {"type": "text", "fontSize": 13, "color": "#333333", "baseline": "middle"},
        "encoding": {"x": {"datum": 15, "type": "quantitative"}, "y": {"datum": 851, "type": "quantitative"}, "text": {"field": "st"}}
      }
    ]
  }
}
